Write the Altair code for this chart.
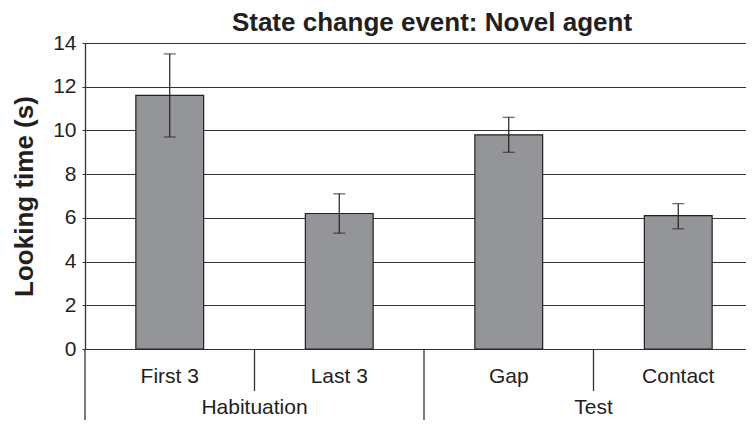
import altair as alt
import pandas as pd

# ---- data ----
title_text = "State change event: Novel agent"
conditions = ["First 3", "Last 3", "Gap", "Contact"]
phases = ["Habituation", "Habituation", "Test", "Test"]
means = [11.6, 6.2, 9.8, 6.1]
err_low = [9.7, 5.3, 9.0, 5.5]
err_high = [13.5, 7.1, 10.6, 6.65]
y_ticks = [0, 2, 4, 6, 8, 10, 12, 14]

df = pd.DataFrame({"condition": conditions, "phase": phases,
                   "mean": means, "lo": err_low, "hi": err_high})

# separators under the axis: long at the start of each phase, short inside
div_rows, seen = [], set()
for c, p in zip(conditions, phases):
    div_rows.append({"condition": c, "kind": "short" if p in seen else "long"})
    seen.add(p)
dividers = pd.DataFrame(div_rows)

# phase labels centred on each phase (boundary between its two categories)
grp_rows = []
for p in dict.fromkeys(phases):
    members = [c for c, q in zip(conditions, phases) if q == p]
    grp_rows.append({"condition": members[len(members) // 2], "phase": p})
groups = pd.DataFrame(grp_rows)

FONT = "Liberation Sans"
DARK = "#231f20"
LINE = "#333333"

W, H = 661, 306
PB = 71
x_scale = alt.Scale(domain=conditions, range=[0, 678], paddingInner=0, paddingOuter=0)
y_scale = alt.Scale(domain=[0, 14], nice=False)

X = alt.X("condition:N", scale=x_scale, axis=None, sort=conditions)
Xb = alt.X("condition:N", scale=x_scale, axis=None, sort=conditions, bandPosition=0)

y_axis = alt.Axis(
    values=y_ticks, title="Looking time (s)", grid=True,
    gridColor=LINE, gridWidth=1, domainColor=LINE, domainWidth=1.3,
    tickColor=LINE, tickSize=3, tickWidth=1,
    labelFont=FONT, labelFontSize=21, labelColor=DARK, labelPadding=6,
    titleFont=FONT, titleFontSize=26, titleFontWeight="bold", titleColor=DARK,
    titleAngle=-90, titleX=-53, titleY=153, titleAlign="center",
    titleBaseline="alphabetic",
)

bars = alt.Chart(df).mark_bar(
    width={"band": 0.4}, color="#939598", stroke=DARK, strokeWidth=1.2
).encode(x=X, y=alt.Y("mean:Q", scale=y_scale, axis=y_axis))

err = alt.Chart(df).mark_rule(color=DARK, strokeWidth=1.2).encode(
    x=X, y=alt.Y("lo:Q", scale=y_scale), y2="hi:Q")
cap_lo = alt.Chart(df).mark_tick(color=DARK, thickness=1.2, size=12).encode(
    x=X, y=alt.Y("lo:Q", scale=y_scale))
cap_hi = alt.Chart(df).mark_tick(color=DARK, thickness=1.2, size=12).encode(
    x=X, y=alt.Y("hi:Q", scale=y_scale))

long_div = alt.Chart(dividers).transform_filter(alt.datum.kind == "long").mark_rule(
    color=LINE, strokeWidth=1.3).encode(x=Xb, y=alt.value(H), y2=alt.value(H + PB))
short_div = alt.Chart(dividers).transform_filter(alt.datum.kind == "short").mark_rule(
    color=LINE, strokeWidth=1.3).encode(x=Xb, y=alt.value(H), y2=alt.value(H + 42))

cat_labels = alt.Chart(df).mark_text(
    font=FONT, fontSize=21, color=DARK, baseline="alphabetic"
).encode(x=X, y=alt.value(H + 34), text="condition:N")

grp_labels = alt.Chart(groups).mark_text(
    font=FONT, fontSize=21, color=DARK, baseline="alphabetic"
).encode(x=Xb, y=alt.value(H + 65), text="phase:N")

title = alt.Chart(pd.DataFrame({"t": [title_text]})).mark_text(
    font=FONT, fontSize=26, fontWeight="bold", color=DARK,
    baseline="alphabetic", align="center"
).encode(x=alt.value(347), y=alt.value(-12), text="t:N")

chart = alt.layer(
    bars, err, cap_lo, cap_hi, long_div, short_div, cat_labels, grp_labels, title
).properties(
    width=W, height=H,
    autosize=alt.AutoSizeParams(type="none"),
    padding={"left": 77, "top": 35, "right": 0, "bottom": PB},
).configure_view(stroke=None).configure(background="white")

chart.save("out.html", embed_options={"renderer": "svg", "actions": False})
